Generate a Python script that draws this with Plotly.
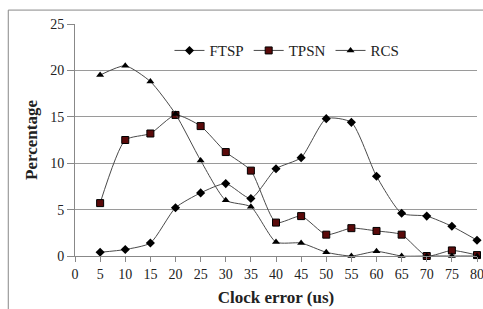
import plotly.graph_objects as go

x_vals = [5, 10, 15, 20, 25, 30, 35, 40, 45, 50, 55, 60, 65, 70, 75, 80]
ftsp = [0.4, 0.7, 1.4, 5.2, 6.8, 7.8, 6.2, 9.4, 10.6, 14.8, 14.4, 8.6, 4.6, 4.3, 3.2, 1.7]
tpsn = [5.7, 12.5, 13.2, 15.2, 14.0, 11.2, 9.2, 3.6, 4.3, 2.3, 3.0, 2.7, 2.3, 0.0, 0.6, 0.1]
rcs = [19.5, 20.5, 18.8, 15.3, 10.3, 6.0, 5.3, 1.5, 1.4, 0.4, 0.0, 0.5, 0.0, 0.0, 0.0, 0.0]
x_ticks = list(range(0, 85, 5))
y_ticks = [0, 5, 10, 15, 20, 25]

font_family = "Liberation Serif"
line_col = "#4a4a4a"

fig = go.Figure()
fig.add_trace(go.Scatter(x=x_vals, y=ftsp, name="FTSP", mode="lines+markers", cliponaxis=False,
                         line=dict(color=line_col, width=1, shape="spline", smoothing=0.6),
                         marker=dict(symbol="diamond", size=7, color="black")))
fig.add_trace(go.Scatter(x=x_vals, y=tpsn, name="TPSN", mode="lines+markers", cliponaxis=False,
                         line=dict(color=line_col, width=1, shape="spline", smoothing=0.6),
                         marker=dict(symbol="square", size=7, color="#5a0a0a",
                                     line=dict(color="black", width=1))))
fig.add_trace(go.Scatter(x=x_vals, y=rcs, name="RCS", mode="lines+markers", cliponaxis=False,
                         line=dict(color=line_col, width=1, shape="spline", smoothing=0.6),
                         marker=dict(symbol="triangle-up", size=7, color="black")))

fig.update_layout(
    width=483, height=309,
    margin=dict(l=75, r=6, t=24, b=53, autoexpand=False),
    paper_bgcolor="white", plot_bgcolor="white",
    font=dict(family=font_family, size=14, color="#222"),
    showlegend=True,
    legend=dict(orientation="h", x=0.235, y=0.885, xanchor="left", yanchor="middle",
                bgcolor="rgba(0,0,0,0)", font=dict(size=15, family=font_family),
                itemwidth=30, tracegroupgap=0),
    xaxis=dict(range=[0, 80], tickvals=x_ticks, ticks="outside", ticklen=5,
               tickcolor="#888", showgrid=False, showline=True, linecolor="#888",
               zeroline=False, automargin=False, ticklabeloverflow="allow",
               tickfont=dict(size=14, family=font_family),
               title=dict(text="<b>Clock error (us)</b>",
                          font=dict(size=17, family=font_family), standoff=10)),
    yaxis=dict(range=[0, 25], tickvals=y_ticks, ticks="outside", ticklen=7,
               tickcolor="#888", showgrid=True, gridcolor="#9a9a9a", gridwidth=1,
               showline=True, linecolor="#888", zeroline=False, automargin=False,
               tickfont=dict(size=14, family=font_family),
               title=dict(text="<b>Percentage</b>",
                          font=dict(size=17, family=font_family), standoff=8)),
    shapes=[dict(type="rect", xref="paper", yref="paper",
                 x0=-0.166, x1=1.2, y0=-0.5, y1=1.06,
                 line=dict(color="#888", width=1), layer="below")],
)

fig.write_html("out.html", config={"displayModeBar": False},
               post_script="document.body.style.margin='0';document.body.style.overflow='hidden';")
